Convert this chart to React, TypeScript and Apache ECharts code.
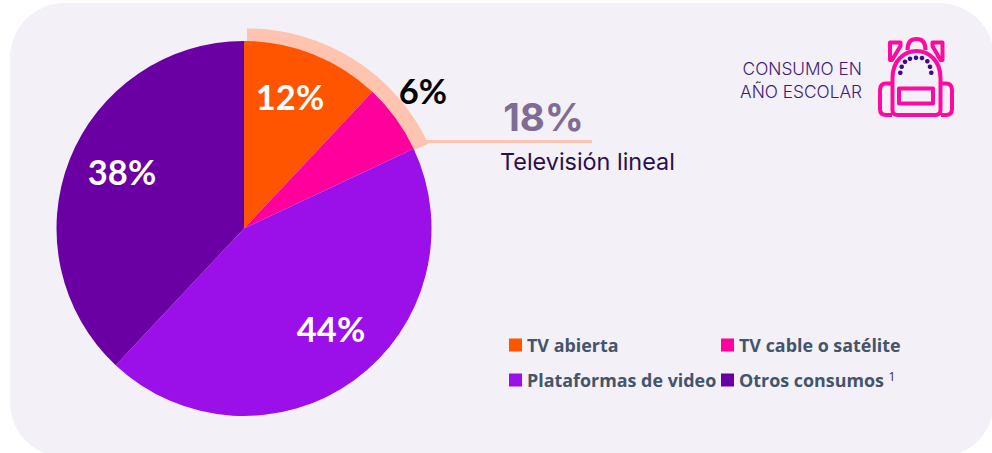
import React, { useEffect, useRef } from "react";
import * as echarts from "echarts";

const categories = ["TV abierta", "TV cable o satélite", "Plataformas de video", "Otros consumos"];
const values = [12, 6, 44, 38];
const colors = ["#ff5500", "#ff009c", "#9b10e8", "#6a00a3"];
const labelColors = ["#ffffff", "#000000", "#ffffff", "#ffffff"];
const bandValues = [18, 82];
const bandNames = ["Televisión lineal", "Resto"];

const backpack =
  "M892.5,110 V78 C892.5,60 905,51 916.5,51 C928,51 940.5,60 940.5,78 V110 Q940.5,115 935.5,115 H897.5 Q892.5,115 892.5,110 Z " +
  "M892,83.5 H886 Q880,83.5 880,90 V109 Q880,115 886,115 H892 " +
  "M941,83.5 H946 Q952,83.5 952,90 V109 Q952,115 946,115 H941 " +
  "M899,88.5 H933 V103.5 H899 Z " +
  "M907.5,50 C907.5,42 911,39 916.5,39 C922,39 925.5,42 925.5,50 " +
  "M890,42.5 H900.5 V46 L892,60 H890 Z " +
  "M942.5,42.5 H932.5 V46 L940.5,60 H942.5 Z";
echarts.graphic.registerShape("backpack", echarts.graphic.extendPath(backpack, {}));

const dots = [
  [900.3, 72.7], [901.7, 66.7], [905, 61.7], [910, 58.7], [916, 57.7],
  [922, 58], [927.3, 61.3], [930, 66.7], [931.3, 72.7],
];
const labelCenters = [[290, 96], [423, 90], [331, 328], [122, 171]];

const legendAt = (name: string, left: number, top: number) => ({
  data: [name],
  left,
  top,
  padding: 0,
  itemWidth: 13,
  itemHeight: 13,
  selectedMode: false,
  icon: "rect",
  formatter: (n: string) => (n === "Otros consumos" ? n + " {sup|1}" : n),
  textStyle: {
    fontFamily: "Open Sans",
    fontWeight: "bold",
    fontSize: 17.9,
    color: "#44546a",
    rich: {
      sup: { fontFamily: "Open Sans", fontWeight: "normal", fontSize: 12, color: "#3a1a5e", verticalAlign: "top", padding: [0, 0, 8, 0] },
    },
  },
});

export default function App() {
  const ref = useRef<HTMLDivElement>(null);
  useEffect(() => {
    const chart = echarts.init(ref.current!, undefined, { renderer: "svg" });
    chart.setOption({
      animation: false,
      backgroundColor: "#ffffff",
      legend: [
        legendAt(categories[0], 509, 336),
        legendAt(categories[1], 721, 336),
        legendAt(categories[2], 509, 371),
        legendAt(categories[3], 721, 370),
      ],
      series: [
        {
          type: "pie",
          z: 1,
          center: [247, 229],
          radius: [180, 200.5],
          startAngle: 90,
          clockwise: true,
          silent: true,
          label: { show: false },
          labelLine: { show: false },
          data: bandValues.map((v, i) => ({
            value: v,
            name: bandNames[i],
            itemStyle: { color: i === 0 ? "#ffc4b0" : "rgba(0,0,0,0)" },
          })),
        },
        {
          type: "pie",
          z: 2,
          center: [244, 228.5],
          radius: [0, 187.5],
          startAngle: 90,
          clockwise: true,
          silent: true,
          labelLine: { show: false },
          label: {
            show: true,
            position: "inside",
            formatter: "{c}%",
            fontFamily: "Lato",
            fontWeight: "bold",
            fontSize: 34.5,
          },
          labelLayout: (p: any) => ({
            x: labelCenters[p.dataIndex][0],
            y: labelCenters[p.dataIndex][1],
            align: "center",
            verticalAlign: "middle",
          }),
          data: values.map((v, i) => ({
            value: v,
            name: categories[i],
            itemStyle: { color: colors[i] },
            label: { color: labelColors[i] },
          })),
        },
      ],
      graphic: [
        { type: "rect", z: -1, shape: { x: 10, y: 3, width: 984, height: 454, r: 55 }, style: { fill: "#f3f0f7" } },
        { type: "line", z: 5, shape: { x1: 426, y1: 141.5, x2: 592, y2: 141.5 }, style: { stroke: "#ffc4b0", lineWidth: 3 } },
        {
          type: "text", z: 5, x: 543.5, y: 117,
          style: { text: "18%", fontFamily: "Inter", fontWeight: "bold", fontSize: 38.5, fill: "#7f6c93", align: "center", verticalAlign: "middle" },
        },
        {
          type: "text", z: 5, x: 500, y: 161,
          style: { text: "Televisión lineal", fontFamily: "Inter", fontSize: 23.4, fill: "#2a0f4f", align: "left", verticalAlign: "middle" },
        },
        {
          type: "text", z: 5, x: 862, y: 68,
          style: { text: "CONSUMO EN", fontFamily: "Inter", fontWeight: 300, fontSize: 17.3, fill: "#3f1a78", align: "right", verticalAlign: "middle" },
        },
        {
          type: "text", z: 5, x: 862, y: 91,
          style: { text: "AÑO ESCOLAR", fontFamily: "Inter", fontWeight: 300, fontSize: 17.3, fill: "#3f1a78", align: "right", verticalAlign: "middle" },
        },
        { type: "backpack", z: 5, x: 0, y: 0, style: { fill: "none", stroke: "#ff0aa0", lineWidth: 4, lineJoin: "round" } },
        ...dots.map(([cx, cy]) => ({
          type: "circle", z: 6, shape: { cx, cy, r: 2.3 }, style: { fill: "#3f0a8a" },
        })),
      ],
    });
    return () => chart.dispose();
  }, []);
  return <div ref={ref} style={{ position: "absolute", left: 0, top: 0, width: 992, height: 453 }} />;
}
